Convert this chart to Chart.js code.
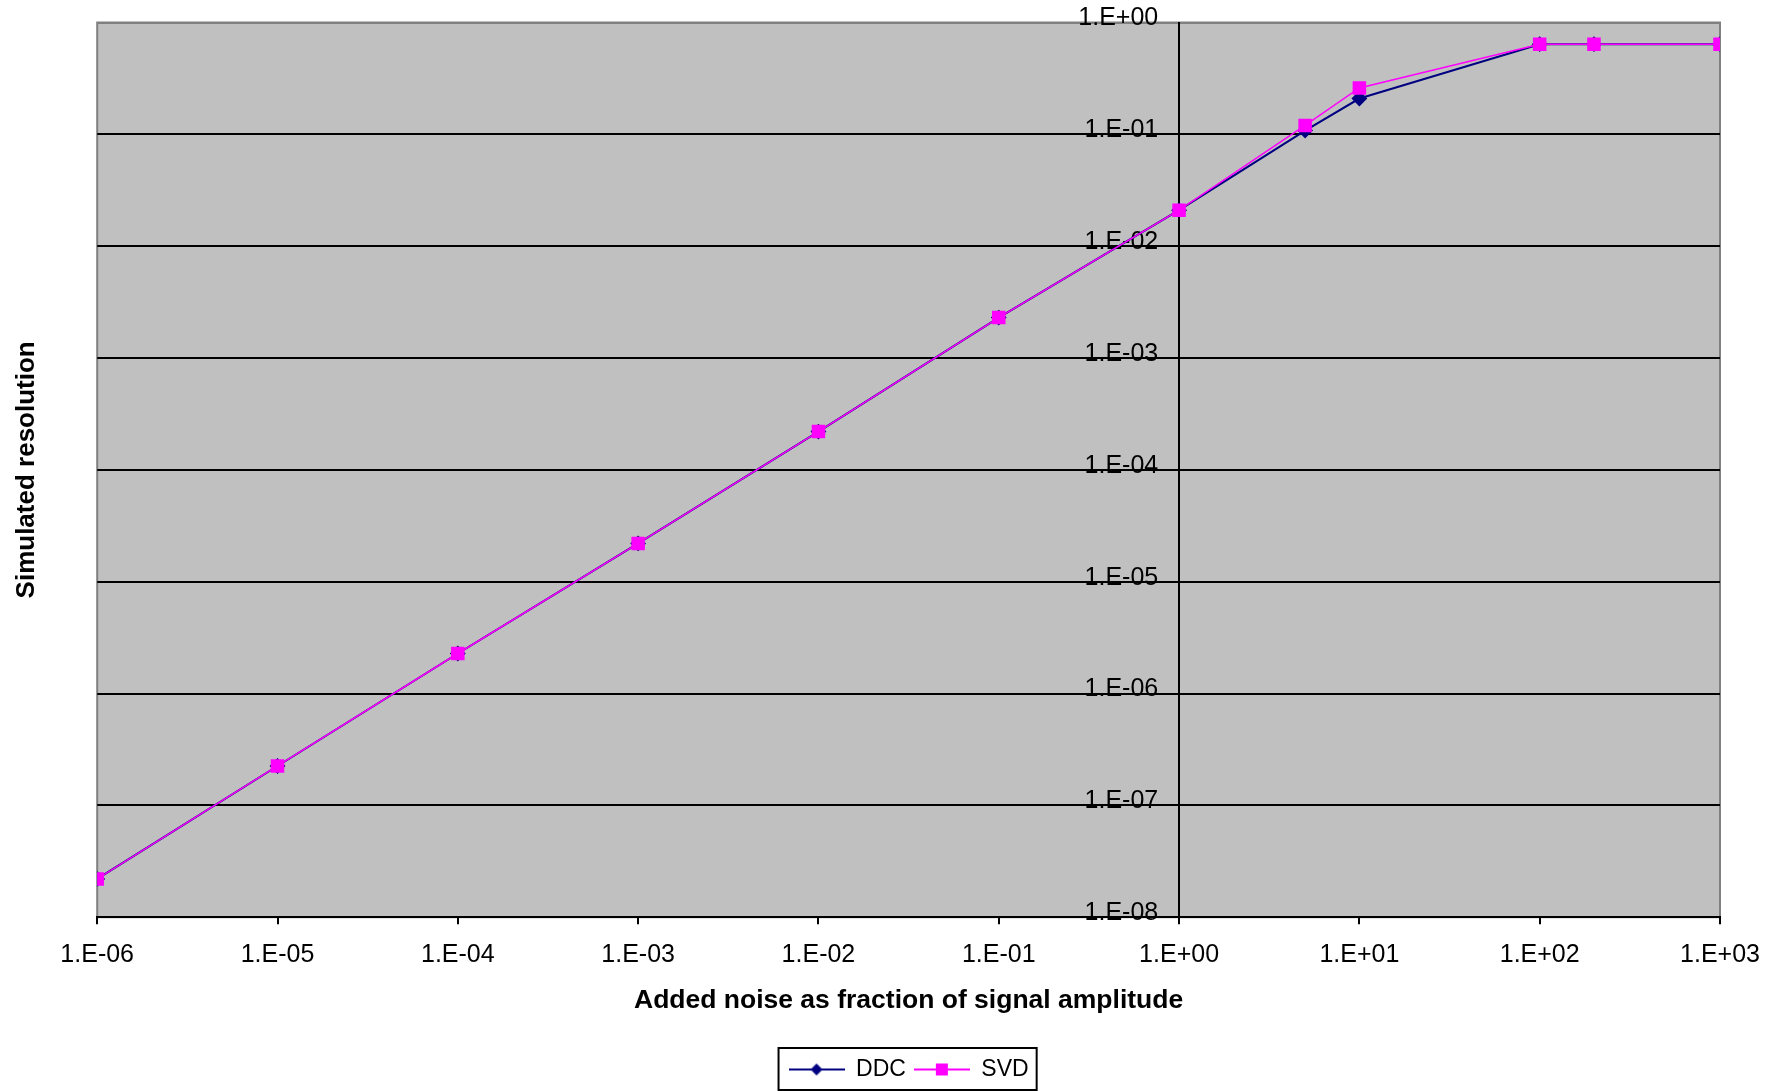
<!DOCTYPE html>
<html>
<head>
<meta charset="utf-8">
<script src="https://cdn.jsdelivr.net/npm/chart.js@4/dist/chart.umd.min.js"></script>
<style>
  body{margin:0;background:#fff;}
  #wrap{width:1781px;height:1091px;}
</style>
</head>
<body>
<div id="wrap"><canvas id="chart" width="1781" height="1091"></canvas></div>
<script>
// noise fraction (x) and simulated resolution (y)
const noise = [1e-6, 1e-5, 1e-4, 1e-3, 1e-2, 1e-1, 1, 5, 10, 100, 200, 1000];
const ddc   = [2.2e-8, 2.25e-7, 2.28e-6, 2.2e-5, 2.2e-4, 2.3e-3, 0.021, 0.108, 0.209, 0.64, 0.64, 0.64];
const svd   = [2.2e-8, 2.25e-7, 2.28e-6, 2.2e-5, 2.2e-4, 2.3e-3, 0.021, 0.12, 0.26, 0.64, 0.64, 0.64];
const xTicks = [1e-6, 1e-5, 1e-4, 1e-3, 1e-2, 1e-1, 1, 10, 100, 1000];
const yTicks = [1e-8, 1e-7, 1e-6, 1e-5, 1e-4, 1e-3, 1e-2, 1e-1, 1];
const seriesNames = ['DDC', 'SVD'];
const seriesColors = ['#000080', '#FF00FF'];

const fontFam = 'Arial, "Liberation Sans", sans-serif';

function sciLabel(v){
  const e = Math.round(Math.log10(v));
  return '1.E' + (e < 0 ? '-' : '+') + String(Math.abs(e)).padStart(2, '0');
}

// little legend icons: line through the marker, like the spreadsheet legend
function legendIcon(color, shape){
  const c = document.createElement('canvas');
  c.width = 56; c.height = 16;
  const g = c.getContext('2d');
  g.strokeStyle = color; g.lineWidth = 2;
  g.beginPath(); g.moveTo(0, 8); g.lineTo(56, 8); g.stroke();
  g.fillStyle = color;
  if (shape === 'diamond'){
    g.beginPath(); g.moveTo(28, 2); g.lineTo(34, 8); g.lineTo(28, 14); g.lineTo(22, 8); g.closePath(); g.fill();
  } else {
    g.fillRect(22, 2, 12, 12);
  }
  return c;
}
const icons = [legendIcon(seriesColors[0], 'diamond'), legendIcon(seriesColors[1], 'square')];

const plotBg = {
  id: 'plotBg',
  beforeDraw(chart){
    const {ctx, chartArea: a} = chart;
    ctx.save();
    ctx.fillStyle = '#C0C0C0';
    ctx.fillRect(a.left, a.top, a.right - a.left, a.bottom - a.top);
    ctx.strokeStyle = '#808080'; ctx.lineWidth = 2;
    ctx.strokeRect(a.left, a.top, a.right - a.left, a.bottom - a.top);
    ctx.restore();
  },
  afterDraw(chart){
    const lg = chart.legend;
    if (!lg || !lg.legendHitBoxes.length) return;
    const hb = lg.legendHitBoxes;
    const l = Math.min(...hb.map(b => b.left)) - 10;
    const r = Math.max(...hb.map(b => b.left + b.width)) + 8;
    const t = Math.min(...hb.map(b => b.top)) - 10;
    const btm = Math.max(...hb.map(b => b.top + b.height)) + 9;
    const ctx = chart.ctx;
    ctx.save();
    ctx.strokeStyle = '#000'; ctx.lineWidth = 2;
    ctx.strokeRect(l, t, r - l, btm - t);
    ctx.restore();
  }
};

new Chart(document.getElementById('chart'), {
  type: 'scatter',
  data: {
    datasets: [
      {label: seriesNames[0], data: noise.map((x, i) => ({x, y: ddc[i]})), showLine: true,
       borderColor: seriesColors[0], backgroundColor: seriesColors[0], borderWidth: 2,
       pointStyle: 'rectRot', pointRadius: 6.5, order: 2},
      {label: seriesNames[1], data: noise.map((x, i) => ({x, y: svd[i]})), showLine: true,
       borderColor: seriesColors[1], backgroundColor: seriesColors[1], borderWidth: 1.5,
       pointStyle: 'rect', pointRadius: 8.5, order: 1}
    ]
  },
  options: {
    responsive: false,
    animation: false,
    events: [],
    layout: {padding: {left: 0, top: 22.5, right: 61, bottom: 0}},
    scales: {
      x: {
        type: 'logarithmic', min: 1e-6, max: 1000,
        afterBuildTicks: s => { s.ticks = xTicks.map(v => ({value: v})); },
        ticks: {callback: v => sciLabel(v), color: '#000', font: {family: fontFam, size: 25}, padding: 15.5, maxRotation: 0, autoSkip: false},
        grid: {drawOnChartArea: false, drawTicks: true, tickLength: 7, color: '#000', lineWidth: 2},
        border: {color: '#000', width: 2},
        title: {display: true, text: 'Added noise as fraction of signal amplitude', color: '#000',
                font: {family: fontFam, size: 26.5, weight: 'bold'}, padding: {top: 0, bottom: 33}}
      },
      y: {
        type: 'logarithmic', min: 1e-8, max: 1,
        position: {x: 1},
        afterBuildTicks: s => { s.ticks = yTicks.map(v => ({value: v})); },
        // labels sit against the axis line at x = 1, so pad them with trailing spaces
        ticks: {callback: v => sciLabel(v) + '   ', color: '#000', font: {family: fontFam, size: 25}, autoSkip: false, labelOffset: -4},
        grid: {color: c => (c.tick && c.tick.value === 1 ? '#808080' : '#000'), lineWidth: 2, drawTicks: true, tickLength: 9},
        border: {color: '#000', width: 2}
      },
      yt: {
        type: 'linear', position: 'left', min: 0, max: 1,
        ticks: {display: false},
        grid: {display: false, drawTicks: false},
        border: {display: false},
        title: {display: true, text: 'Simulated resolution', color: '#000',
                font: {family: fontFam, size: 26, weight: 'bold'}, padding: {top: 11, bottom: 55}}
      }
    },
    plugins: {
      tooltip: {enabled: false},
      legend: {
        position: 'bottom',
        fullSize: false,
        labels: {
          color: '#000', font: {family: fontFam, size: 23},
          usePointStyle: true, pointStyleWidth: 56, boxHeight: 16, padding: 8,
          generateLabels: chart => {
            const items = Chart.defaults.plugins.legend.labels.generateLabels(chart);
            items.sort((a, b) => a.datasetIndex - b.datasetIndex);
            return items.map(it => Object.assign(it, {pointStyle: icons[it.datasetIndex]}));
          }
        }
      }
    }
  },
  plugins: [plotBg]
});
</script>
</body>
</html>
